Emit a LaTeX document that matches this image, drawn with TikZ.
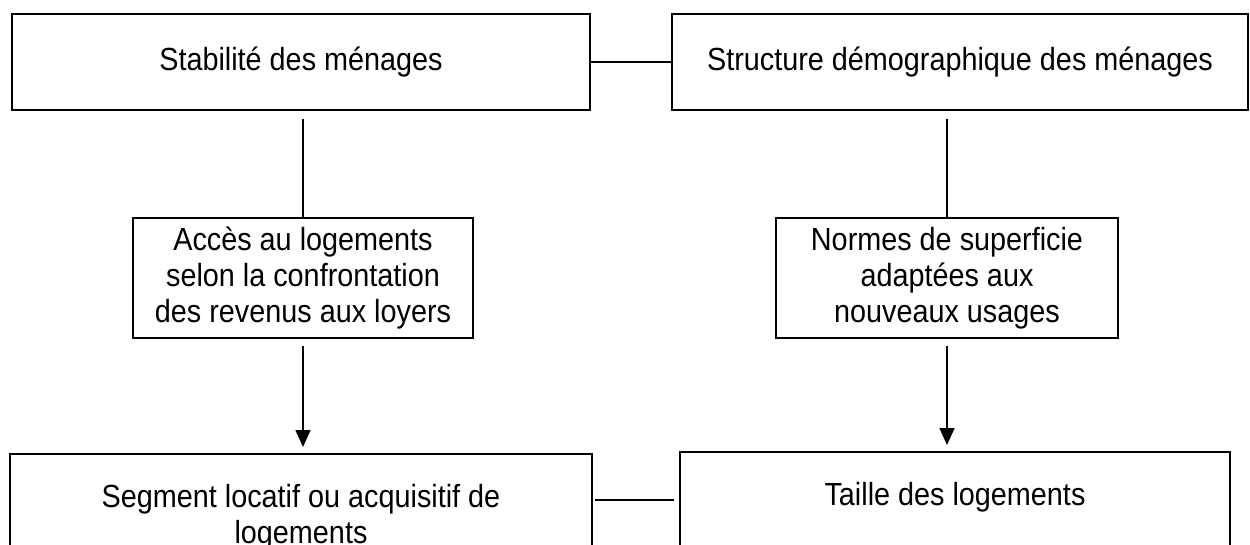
\documentclass[tikz,border=0pt]{standalone}
\usepackage{fontspec}
\setmainfont{Liberation Sans}[FakeStretch=0.9]
\usetikzlibrary{arrows.meta,calc}
\tikzset{
  box/.style={draw=black, line width=1.6pt, rectangle, align=center, inner sep=0pt,
    font=\fontsize{32}{36}\selectfont},
  link/.style={draw=black, line width=1.6pt},
  arr/.style={link, -{Triangle[width=15pt,length=17pt]}}
}
\begin{document}
\begin{tikzpicture}[x=1pt,y=-1pt]
\useasboundingbox (0,0) rectangle (1250,544);
\clip (0,0) rectangle (1250,544);
\fill[white] (0,0) rectangle (1250,544);
\node[box, minimum width=578pt, minimum height=96pt] (b1) at (301,62) {Stabilité des ménages};
\node[box, minimum width=576pt, minimum height=96pt] (b2) at (960,62) {Structure démographique des ménages};
\node[box, minimum width=340pt, minimum height=120pt] (b3) at (303,278) {Accès au logements\\selon la confrontation\\des revenus aux loyers};
\node[box, minimum width=342pt, minimum height=120pt] (b4) at (947,278) {Normes de superficie\\adaptées aux\\nouveaux usages};
\node[box, anchor=north, minimum width=582pt, inner ysep=31pt] (b5) at (301,453) {Segment locatif ou acquisitif de\\logements};
\node[box, anchor=north, minimum width=550pt, inner ysep=31pt, text depth=60pt] (b6) at (955,451) {Taille des logements};
\coordinate (ly) at (0,500);
\draw[link] (b1.east) -- (b2.west);
\draw[link] ([yshift=-8pt]b3.north |- b1.south) -- (b3.north);
\draw[link] ([yshift=-8pt]b4.north |- b2.south) -- (b4.north);
\draw[arr] ([yshift=-7pt]b3.south) -- ([yshift=6pt]b3.south |- b5.north);
\draw[arr] ([yshift=-7pt]b4.south) -- ([yshift=6pt]b4.south |- b6.north);
\draw[link] ([xshift=2pt]b5.east |- ly) -- ([xshift=-5pt]b6.west |- ly);
\end{tikzpicture}
\end{document}
